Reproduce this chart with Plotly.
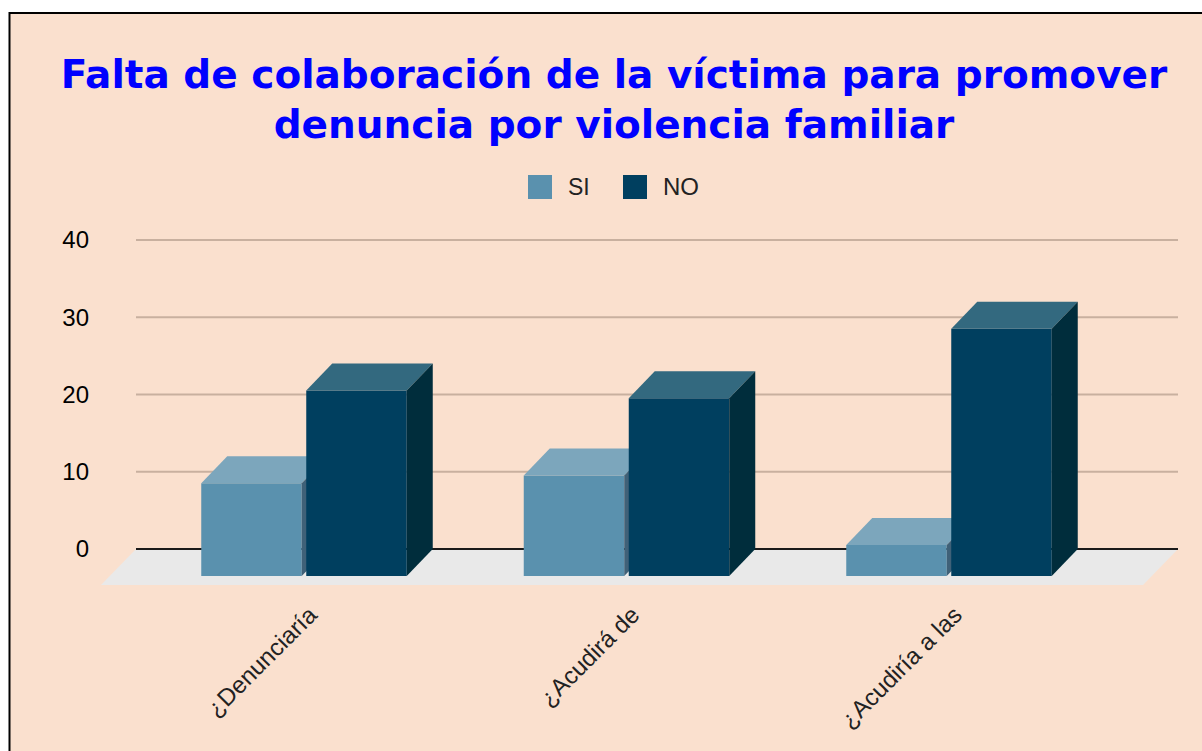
import plotly.graph_objects as go

categories = ["¿Denunciaría", "¿Acudirá de", "¿Acudiría a las"]
si_values = [12, 13, 4]
no_values = [24, 23, 32]
y_ticks = [0, 10, 20, 30, 40]
title_text = "Falta de colaboración de la víctima para promover<br>denuncia por violencia familiar"

W, H = 1202, 751
PX_X, PX_Y = 322.5, 7.725       # pixels per data unit
X0_PX, Y0_PX = 330, 549         # pixel of category 0 / value 0 on the back plane
DEPTH_X, DEPTH_Y = 26 / PX_X, 27 / PX_Y
FLOOR_X, FLOOR_Y = 35 / PX_X, 36 / PX_Y
BAR_W = 100.5 / PX_X
OFFSET = 52.5 / PX_X
LABEL_SHIFT = 20 / PX_X
GRID_L, GRID_R = (136 - X0_PX) / PX_X, (1178 - X0_PX) / PX_X
DOM_L, DOM_R, DOM_T, DOM_B = 96, 1184, 230, 592

BG = "#fae0ce"
FONT = "Liberation Sans"
SI_C = dict(front="#5a91ae", top="#7ca6bc", side="#3f6178")
NO_C = dict(front="#003f5f", top="#33697f", side="#002d3c")

x_range = [(DOM_L - X0_PX) / PX_X, (DOM_R - X0_PX) / PX_X]
y_range = [(Y0_PX - DOM_B) / PX_Y, (Y0_PX - DOM_T) / PX_Y]


def add_series(fig, name, values, colors, offset, xa, ya):
    xs = [i + offset - DEPTH_X for i in range(len(values))]
    fig.add_trace(go.Bar(x=xs, y=values, base=[-DEPTH_Y] * len(values), width=BAR_W, name=name,
                         marker=dict(color=colors["front"], line=dict(width=0)),
                         showlegend=False, xaxis=xa, yaxis=ya))
    for cx, v in zip(xs, values):
        xl, xr = cx - BAR_W / 2, cx + BAR_W / 2
        ft = v - DEPTH_Y
        fb = -DEPTH_Y
        fig.add_trace(go.Scatter(
            x=[xl, xr, xr + DEPTH_X, xl + DEPTH_X, xl], y=[ft, ft, v, v, ft],
            mode="lines", line=dict(width=0), fill="toself", fillcolor=colors["top"],
            showlegend=False, hoverinfo="skip", xaxis=xa, yaxis=ya))
        fig.add_trace(go.Scatter(
            x=[xr, xr + DEPTH_X, xr + DEPTH_X, xr, xr], y=[ft, v, 0, fb, ft],
            mode="lines", line=dict(width=0), fill="toself", fillcolor=colors["side"],
            showlegend=False, hoverinfo="skip", xaxis=xa, yaxis=ya))


fig = go.Figure()
add_series(fig, "SI", si_values, SI_C, -OFFSET, "x", "y")
add_series(fig, "NO", no_values, NO_C, OFFSET, "x2", "y2")

floor_path = (f"M {GRID_L} 0 L {GRID_R} 0 "
              f"L {GRID_R - FLOOR_X} {-FLOOR_Y} L {GRID_L - FLOOR_X} {-FLOOR_Y} Z")


def px(x):
    return x / W


def py(y):
    return 1 - y / H


shapes = [
    dict(type="rect", xref="paper", yref="paper", x0=px(9.5), x1=px(1210), y0=py(13), y1=py(760),
         fillcolor=BG, line=dict(color="#000000", width=2), layer="below"),
    dict(type="path", xref="x", yref="y", path=floor_path, fillcolor="#e9e9e9", line=dict(width=0), layer="below"),
]
for t in y_ticks:
    shapes.append(dict(type="line", xref="x", yref="y", x0=GRID_L, x1=GRID_R, y0=t, y1=t, layer="below",
                       line=dict(color="#1a1a1a" if t == 0 else "#c8b09f", width=2)))
shapes += [
    dict(type="rect", xref="paper", yref="paper", x0=px(528), x1=px(552), y0=py(175), y1=py(199),
         fillcolor=SI_C["front"], line=dict(width=0)),
    dict(type="rect", xref="paper", yref="paper", x0=px(623), x1=px(647), y0=py(175), y1=py(199),
         fillcolor=NO_C["front"], line=dict(width=0)),
]
annotations = [
    dict(text="SI", x=px(566), y=py(187), xref="paper", yref="paper", xanchor="left", yanchor="middle",
         showarrow=False, font=dict(family=FONT, size=23, color="#222222")),
    dict(text="NO", x=px(661), y=py(187), xref="paper", yref="paper", xanchor="left", yanchor="middle",
         showarrow=False, font=dict(family=FONT, size=24, color="#222222")),
]

x_dom = [px(DOM_L), px(DOM_R)]
y_dom = [py(DOM_B), py(DOM_T)]
fig.update_layout(
    width=W, height=H, autosize=False, margin=dict(l=0, r=0, t=0, b=0),
    paper_bgcolor="#ffffff", plot_bgcolor="rgba(0,0,0,0)", barmode="overlay", showlegend=False,
    title=dict(text=title_text, x=614 / W, xanchor="center", y=py(87.5), yanchor="middle",
               font=dict(family="DejaVu Sans", size=39, color="#0000ff", weight="bold")),
    shapes=shapes, annotations=annotations,
    xaxis=dict(domain=x_dom, range=x_range, automargin=False,
               tickvals=[i - LABEL_SHIFT for i in range(len(categories))], ticktext=categories,
               tickangle=-45, showgrid=False, zeroline=False, ticks="", ticklabelstandoff=3,
               tickfont=dict(family=FONT, size=24, color="#222222")),
    yaxis=dict(domain=y_dom, range=y_range, tickvals=y_ticks, showgrid=False, automargin=False,
               zeroline=False, ticks="", ticklabelstandoff=6,
               tickfont=dict(family=FONT, size=24, color="#000000")),
    xaxis2=dict(domain=x_dom, range=x_range, overlaying="x", visible=False, zeroline=False, showgrid=False),
    yaxis2=dict(domain=y_dom, range=y_range, overlaying="y", visible=False, zeroline=False, showgrid=False),
)

fig.write_html("out.html", post_script="document.body.style.margin='0';", config={"displayModeBar": False})
